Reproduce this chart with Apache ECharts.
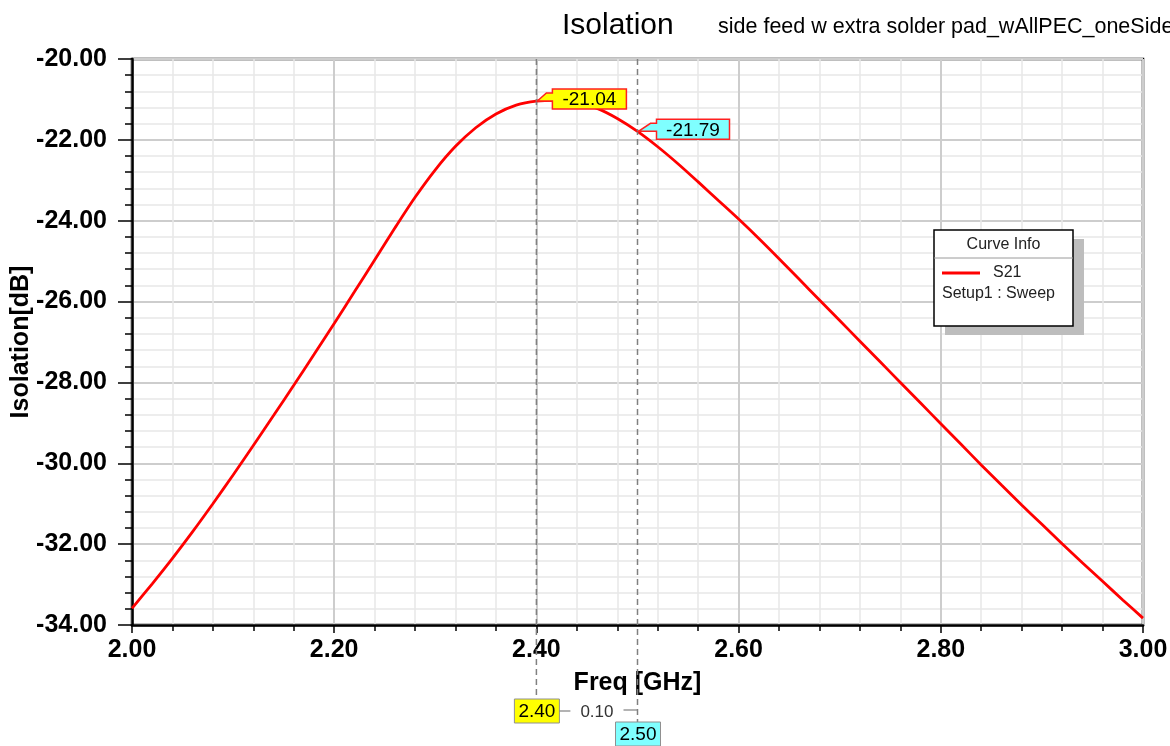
<!DOCTYPE html>
<html>
<head>
<meta charset="utf-8">
<script src="https://cdn.jsdelivr.net/npm/echarts@6/dist/echarts.min.js"></script>
<style>
html,body{margin:0;padding:0;background:#fff;}
#c{width:1170px;height:746px;}
</style>
</head>
<body>
<div id="c"></div>
<script>
// ---- data ----
const freqs = [2.00, 2.02, 2.04, 2.06, 2.08, 2.10, 2.12, 2.14, 2.16, 2.18, 2.20, 2.22, 2.24, 2.26, 2.28, 2.30, 2.32, 2.34, 2.36, 2.38, 2.40, 2.42, 2.44, 2.46, 2.48, 2.50, 2.52, 2.54, 2.56, 2.58, 2.60, 2.62, 2.64, 2.66, 2.68, 2.70, 2.72, 2.74, 2.76, 2.78, 2.80, 2.82, 2.84, 2.86, 2.88, 2.90, 2.92, 2.94, 2.96, 2.98, 3.00];
const s21   = [-33.59, -32.98, -32.35, -31.69, -31.00, -30.29, -29.56, -28.82, -28.07, -27.31, -26.54, -25.76, -24.97, -24.18, -23.42, -22.74, -22.16, -21.70, -21.36, -21.14, -21.04, -21.02, -21.08, -21.22, -21.47, -21.79, -22.17, -22.59, -23.04, -23.50, -23.96, -24.44, -24.94, -25.45, -25.96, -26.47, -26.98, -27.49, -28.00, -28.51, -29.02, -29.53, -30.04, -30.54, -31.03, -31.51, -31.99, -32.46, -32.92, -33.38, -33.83];
const markerFreqs  = [2.40, 2.50];
const markerValues = [-21.04, -21.79];
const markerDelta  = '0.10';
const titleText = 'Isolation';
const subTitleText = 'side feed w extra solder pad_wAllPEC_oneSide';
const xName = 'Freq [GHz]';
const yName = 'Isolation[dB]';
const legendTitle = 'Curve Info';
const legendSeries = 'S21';
const legendSetup = 'Setup1 : Sweep';

const FONT = 'Liberation Sans';
const chart = echarts.init(document.getElementById('c'));

const data = freqs.map((f, i) => [f, s21[i]]);

chart.setOption({
  animation: false,
  backgroundColor: '#fff',
  title: [
    {text: titleText, left: 562, top: 11, padding: 0,
     textStyle: {fontFamily: FONT, fontSize: 30, fontWeight: 'normal', color: '#000'}},
    {text: subTitleText, left: 718, top: 16, padding: 0,
     textStyle: {fontFamily: FONT, fontSize: 21.5, fontWeight: 'normal', color: '#000'}}
  ],
  grid: {left: 132, right: 27, top: 59, bottom: 121, containLabel: false, outerBoundsMode: 'none',
    show: true, borderColor: '#000', borderWidth: 2.5, backgroundColor: 'transparent'},
  xAxis: {
    type: 'value', min: 2.0, max: 3.0, interval: 0.2,
    name: xName, nameLocation: 'middle', nameGap: 46, nameMoveOverlap: false,
    nameTextStyle: {fontFamily: FONT, fontSize: 25, fontWeight: 'bold', color: '#000'},
    axisLine: {show: true, onZero: false, lineStyle: {color: '#000', width: 2.5}},
    axisTick: {show: true, length: 8, lineStyle: {color: '#000', width: 1.5}},
    minorTick: {show: true, splitNumber: 5, length: 6, lineStyle: {color: '#000', width: 1.5}},
    axisLabel: {fontFamily: FONT, fontSize: 25, fontWeight: 'bold', color: '#000', margin: 13,
      formatter: v => v.toFixed(2)},
    splitLine: {show: true, lineStyle: {color: '#cdcdcd', width: 2}},
    minorSplitLine: {show: true, lineStyle: {color: '#e8e8e8', width: 1.5}}
  },
  yAxis: {
    type: 'value', min: -34, max: -20, interval: 2,
    name: yName, nameLocation: 'middle', nameGap: 98, nameRotate: 90, nameMoveOverlap: false,
    nameTextStyle: {fontFamily: FONT, fontSize: 25, fontWeight: 'bold', color: '#000'},
    axisLine: {show: true, onZero: false, lineStyle: {color: '#000', width: 2.5}},
    axisTick: {show: true, length: 14, lineStyle: {color: '#000', width: 1.5}},
    minorTick: {show: true, splitNumber: 5, length: 7, lineStyle: {color: '#000', width: 1.5}},
    axisLabel: {fontFamily: FONT, fontSize: 25, fontWeight: 'bold', color: '#000', margin: 25,
      formatter: v => v.toFixed(2)},
    splitLine: {show: true, lineStyle: {color: '#cdcdcd', width: 2}},
    minorSplitLine: {show: true, lineStyle: {color: '#e8e8e8', width: 1.5}}
  },
  series: [{
    name: legendSeries, type: 'line', data: data, smooth: 0.3, symbol: 'none',
    lineStyle: {color: '#ff0000', width: 2.8}, z: 5
  }]
});

// ---- markers and legend placed through the library's own scales ----
const gridBottom = chart.convertToPixel({yAxisIndex: 0}, -34);
const gridTop = chart.convertToPixel({yAxisIndex: 0}, -20);
const mk = markerFreqs.map((f, i) => chart.convertToPixel({xAxisIndex: 0, yAxisIndex: 0}, [f, markerValues[i]]));
const fills = ['#ffff00', '#7fffff'];
const gfx = [];

// dashed vertical marker lines
const lineEnds = [gridBottom + 74, gridBottom + 97];
mk.forEach((p, i) => {
  gfx.push({type: 'line', shape: {x1: p[0], y1: gridTop, x2: p[0], y2: lineEnds[i]},
    style: {stroke: '#808080', lineWidth: 1.5, lineDash: [6, 4]}, z: 10});
});

// value tags near the curve
const tagOffsets = [[16, -12], [19, -12]];
const tagW = [74, 73], tagH = 20;
mk.forEach((p, i) => {
  const bx = p[0] + tagOffsets[i][0], by = p[1] + tagOffsets[i][1];
  const w = tagW[i], h = tagH;
  gfx.push({type: 'polygon', shape: {points: [
      [bx, by], [bx + w, by], [bx + w, by + h], [bx, by + h],
      [bx, by + h * 0.6], [bx - 6, by + h * 0.6], [p[0] + 1, p[1]],
      [bx - 6, by + h * 0.2], [bx, by + h * 0.2]
    ]}, style: {fill: fills[i], stroke: '#ff2020', lineWidth: 1.5}, z: 20});
  gfx.push({type: 'text', x: bx + w / 2, y: by + h / 2 + 1,
    style: {text: markerValues[i].toFixed(2), fontFamily: FONT, fontSize: 19, fill: '#000',
      align: 'center', verticalAlign: 'middle'}, z: 21});
});

// frequency boxes below the axis
const fBoxTop = [gridBottom + 74, gridBottom + 97];
mk.forEach((p, i) => {
  const w = 45, h = 24;
  const bx = p[0] - 22, by = fBoxTop[i];
  gfx.push({type: 'rect', shape: {x: bx, y: by, width: w, height: h},
    style: {fill: fills[i], stroke: '#909090', lineWidth: 1}, z: 20});
  gfx.push({type: 'text', x: bx + w / 2, y: by + h / 2 + 1,
    style: {text: markerFreqs[i].toFixed(2), fontFamily: FONT, fontSize: 19, fill: '#000',
      align: 'center', verticalAlign: 'middle'}, z: 21});
});
// delta annotation
const dy = gridBottom + 86;
gfx.push({type: 'line', shape: {x1: mk[0][0] + 23, y1: dy, x2: mk[0][0] + 34, y2: dy},
  style: {stroke: '#808080', lineWidth: 1.2}, z: 20});
gfx.push({type: 'line', shape: {x1: mk[1][0] - 14, y1: dy - 1, x2: mk[1][0], y2: dy - 1},
  style: {stroke: '#808080', lineWidth: 1.2}, z: 20});
gfx.push({type: 'text', x: (mk[0][0] + mk[1][0]) / 2 + 10, y: dy + 1,
  style: {text: markerDelta, fontFamily: FONT, fontSize: 17, fill: '#333',
    align: 'center', verticalAlign: 'middle'}, z: 21});

// curve info box
const L = 934, T = 230, W = 139, H = 96;
gfx.push({type: 'rect', shape: {x: L + 11, y: T + 9, width: W, height: H},
  style: {fill: '#bdbdbd'}, z: 30});
gfx.push({type: 'rect', shape: {x: L, y: T, width: W, height: H},
  style: {fill: '#fff', stroke: '#000', lineWidth: 1.5}, z: 31});
gfx.push({type: 'line', shape: {x1: L, y1: T + 28, x2: L + W, y2: T + 28},
  style: {stroke: '#9a9a9a', lineWidth: 1}, z: 32});
gfx.push({type: 'text', x: L + W / 2, y: T + 15,
  style: {text: legendTitle, fontFamily: FONT, fontSize: 16, fill: '#222', align: 'center', verticalAlign: 'middle'}, z: 32});
gfx.push({type: 'line', shape: {x1: L + 8, y1: T + 43, x2: L + 46, y2: T + 43},
  style: {stroke: '#ff0000', lineWidth: 3}, z: 32});
gfx.push({type: 'text', x: L + 59, y: T + 43,
  style: {text: legendSeries, fontFamily: FONT, fontSize: 16, fill: '#222', align: 'left', verticalAlign: 'middle'}, z: 32});
gfx.push({type: 'text', x: L + 8, y: T + 64,
  style: {text: legendSetup, fontFamily: FONT, fontSize: 16, fill: '#222', align: 'left', verticalAlign: 'middle'}, z: 32});

chart.setOption({graphic: gfx});
</script>
</body>
</html>
